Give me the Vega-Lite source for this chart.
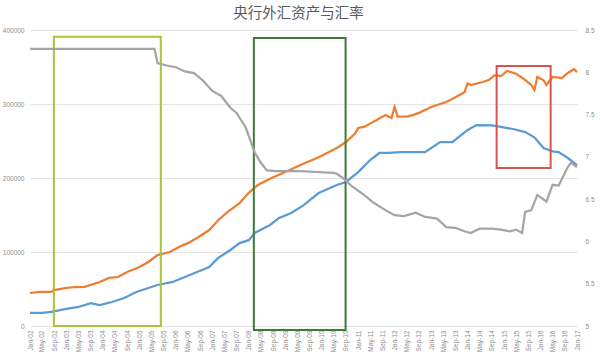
{
  "$schema": "https://vega.github.io/schema/vega-lite/v6.json",
  "autosize": {"type": "none"},
  "width": 547,
  "height": 296,
  "padding": {"left": 30, "top": 30, "right": 23, "bottom": 31},
  "background": "white",
  "config": {"view": {"stroke": null}, "font": "Liberation Sans"},
  "title": {"text": "央行外汇资产与汇率", "font": "Noto Sans CJK SC", "fontSize": 14.5, "fontWeight": "normal", "color": "#595959", "anchor": "middle", "offset": 6, "dx": -5},
  "layer": [
    {
      "layer": [
        {
          "data": {"values": [
            {"d":"2002-01","v":44600},{"d":"2002-04","v":46000},{"d":"2002-08","v":46000},{"d":"2002-09","v":48600},{"d":"2003-01","v":51400},{"d":"2003-04","v":52700},{"d":"2003-07","v":53000},{"d":"2003-12","v":59500},{"d":"2004-03","v":64900},{"d":"2004-06","v":66200},{"d":"2004-09","v":73000},{"d":"2005-01","v":79700},{"d":"2005-04","v":86500},{"d":"2005-07","v":95900},{"d":"2005-11","v":100000},{"d":"2006-02","v":106800},{"d":"2006-05","v":112000},{"d":"2006-08","v":119000},{"d":"2006-12","v":129700},{"d":"2007-03","v":143000},{"d":"2007-06","v":154000},{"d":"2007-10","v":166000},{"d":"2008-01","v":180000},{"d":"2008-04","v":190500},{"d":"2008-08","v":199000},{"d":"2009-01","v":208000},{"d":"2009-06","v":217500},{"d":"2009-12","v":228000},{"d":"2010-06","v":240500},{"d":"2010-09","v":248600},{"d":"2010-12","v":260000},{"d":"2011-01","v":267600},{"d":"2011-03","v":269000},{"d":"2011-07","v":278000},{"d":"2011-10","v":285000},{"d":"2011-12","v":281000},{"d":"2012-01","v":296000},{"d":"2012-02","v":283000},{"d":"2012-05","v":283000},{"d":"2012-07","v":285000},{"d":"2012-09","v":288000},{"d":"2012-11","v":292000},{"d":"2013-01","v":296000},{"d":"2013-06","v":302700},{"d":"2013-09","v":309000},{"d":"2013-12","v":316000},{"d":"2014-01","v":328000},{"d":"2014-02","v":325700},{"d":"2014-06","v":329700},{"d":"2014-08","v":332400},{"d":"2014-10","v":339000},{"d":"2014-12","v":337800},{"d":"2015-02","v":344600},{"d":"2015-05","v":341000},{"d":"2015-08","v":332400},{"d":"2015-10","v":325700},{"d":"2015-11","v":319000},{"d":"2015-12","v":336500},{"d":"2016-02","v":332000},{"d":"2016-03","v":325700},{"d":"2016-05","v":336500},{"d":"2016-08","v":335000},{"d":"2016-10","v":341900},{"d":"2016-12","v":347000},{"d":"2017-01","v":343000}
          ], "format": {"parse": {"d": "date:'%Y-%m'"}}},
          "mark": {"type": "line", "color": "#ED7D31", "strokeWidth": 2.25},
          "encoding": {
            "x": {"field": "d", "type": "temporal", "scale": {"domain": [{"year":2002,"month":1,"date":1},{"year":2017,"month":1,"date":1}]},
              "axis": {"title": null, "format": "%b-%y", "tickCount": {"interval": "month", "step": 4}, "labelAngle": -90, "labelFontSize": 6.5, "labelColor": "#8c8c8c", "labelPadding": 4, "domain": false, "ticks": false, "grid": false, "labelOverlap": false, "labelBound": false, "labelFlush": false}},
            "y": {"field": "v", "type": "quantitative", "scale": {"domain": [0, 400000], "nice": false},
              "axis": {"title": null, "values": [0,50000,100000,150000,200000,250000,300000,350000,400000], "format": "d", "labelFontSize": 6.5, "labelColor": "#8c8c8c", "labelPadding": 6, "domain": false, "ticks": false, "grid": true, "gridColor": "#e3e3e3", "gridWidth": 1}}
          }
        },
        {
          "data": {"values": [
            {"d":"2002-01","v":17600},{"d":"2002-05","v":17600},{"d":"2002-08","v":19000},{"d":"2003-01","v":23000},{"d":"2003-05","v":25700},{"d":"2003-09","v":31000},{"d":"2003-12","v":28400},{"d":"2004-04","v":32400},{"d":"2004-08","v":37800},{"d":"2004-12","v":46000},{"d":"2005-04","v":51400},{"d":"2005-07","v":55400},{"d":"2005-12","v":59500},{"d":"2006-04","v":66200},{"d":"2006-08","v":73000},{"d":"2006-12","v":79700},{"d":"2007-03","v":91900},{"d":"2007-07","v":102700},{"d":"2007-10","v":112000},{"d":"2008-01","v":116000},{"d":"2008-03","v":125700},{"d":"2008-08","v":136500},{"d":"2008-11","v":146000},{"d":"2009-03","v":152700},{"d":"2009-07","v":163000},{"d":"2009-12","v":179700},{"d":"2010-06","v":190500},{"d":"2010-09","v":194600},{"d":"2011-01","v":208000},{"d":"2011-05","v":224300},{"d":"2011-08","v":233800},{"d":"2011-11","v":234000},{"d":"2012-03","v":235000},{"d":"2012-11","v":235000},{"d":"2013-04","v":248600},{"d":"2013-08","v":248600},{"d":"2014-01","v":264800},{"d":"2014-04","v":271600},{"d":"2014-09","v":271000},{"d":"2014-12","v":269000},{"d":"2015-04","v":266200},{"d":"2015-08","v":262000},{"d":"2015-11","v":255000},{"d":"2016-02","v":240500},{"d":"2016-05","v":236000},{"d":"2016-07","v":235000},{"d":"2016-10","v":227000},{"d":"2017-01","v":217500}
          ], "format": {"parse": {"d": "date:'%Y-%m'"}}},
          "mark": {"type": "line", "color": "#5B9BD5", "strokeWidth": 2.25},
          "encoding": {
            "x": {"field": "d", "type": "temporal"},
            "y": {"field": "v", "type": "quantitative"}
          }
        },
        {
          "data": {"values": [
            {"box":"a","x1":"2002-08-28","x2":"2005-08-03","y1":391000,"y2":0},
            {"box":"b","x1":"2008-02-21","x2":"2010-08-28","y1":389200,"y2":-5400},
            {"box":"c","x1":"2014-10-19","x2":"2016-04-12","y1":351300,"y2":213500}
          ], "format": {"parse": {"x1": "date:'%Y-%m-%d'", "x2": "date:'%Y-%m-%d'"}}},
          "mark": {"type": "rect", "fillOpacity": 0, "strokeWidth": 2},
          "encoding": {
            "x": {"field": "x1", "type": "temporal"},
            "x2": {"field": "x2"},
            "y": {"field": "y1", "type": "quantitative"},
            "y2": {"field": "y2"},
            "stroke": {"field": "box", "type": "nominal", "scale": {"domain": ["a","b","c"], "range": ["#a4c639","#3f7a37","#d9534f"]}, "legend": null}
          }
        }
      ]
    },
    {
      "data": {"values": [
        {"d":"2002-01","r":8.277},{"d":"2005-06","r":8.277},{"d":"2005-07","r":8.11},{"d":"2005-10","r":8.08},{"d":"2006-01","r":8.06},{"d":"2006-04","r":8.01},{"d":"2006-07","r":7.99},{"d":"2006-10","r":7.90},{"d":"2007-01","r":7.78},{"d":"2007-04","r":7.72},{"d":"2007-07","r":7.58},{"d":"2007-09","r":7.52},{"d":"2007-12","r":7.35},{"d":"2008-03","r":7.05},{"d":"2008-05","r":6.93},{"d":"2008-07","r":6.84},{"d":"2008-10","r":6.83},{"d":"2009-06","r":6.83},{"d":"2010-05","r":6.81},{"d":"2010-06","r":6.80},{"d":"2010-08","r":6.75},{"d":"2010-11","r":6.65},{"d":"2011-03","r":6.55},{"d":"2011-06","r":6.46},{"d":"2011-10","r":6.37},{"d":"2012-01","r":6.31},{"d":"2012-04","r":6.30},{"d":"2012-08","r":6.34},{"d":"2012-11","r":6.29},{"d":"2013-03","r":6.27},{"d":"2013-06","r":6.17},{"d":"2013-09","r":6.16},{"d":"2013-12","r":6.12},{"d":"2014-02","r":6.10},{"d":"2014-05","r":6.15},{"d":"2014-09","r":6.15},{"d":"2014-12","r":6.14},{"d":"2015-03","r":6.12},{"d":"2015-05","r":6.14},{"d":"2015-07","r":6.10},{"d":"2015-08","r":6.35},{"d":"2015-10","r":6.37},{"d":"2015-12","r":6.55},{"d":"2016-03","r":6.47},{"d":"2016-05","r":6.67},{"d":"2016-07","r":6.66},{"d":"2016-10","r":6.88},{"d":"2016-11","r":6.93},{"d":"2017-01","r":6.88}
      ], "format": {"parse": {"d": "date:'%Y-%m'"}}},
      "mark": {"type": "line", "color": "#A5A5A5", "strokeWidth": 2.25},
      "encoding": {
        "x": {"field": "d", "type": "temporal"},
        "y": {"field": "r", "type": "quantitative", "scale": {"domain": [5, 8.5], "nice": false, "zero": false},
          "axis": {"orient": "right", "title": null, "values": [5,5.5,6,6.5,7,7.5,8,8.5], "format": "~g", "labelFontSize": 6.5, "labelColor": "#8c8c8c", "labelPadding": 8, "domain": false, "ticks": false, "grid": false}}
      }
    }
  ],
  "resolve": {"scale": {"y": "independent"}}
}
